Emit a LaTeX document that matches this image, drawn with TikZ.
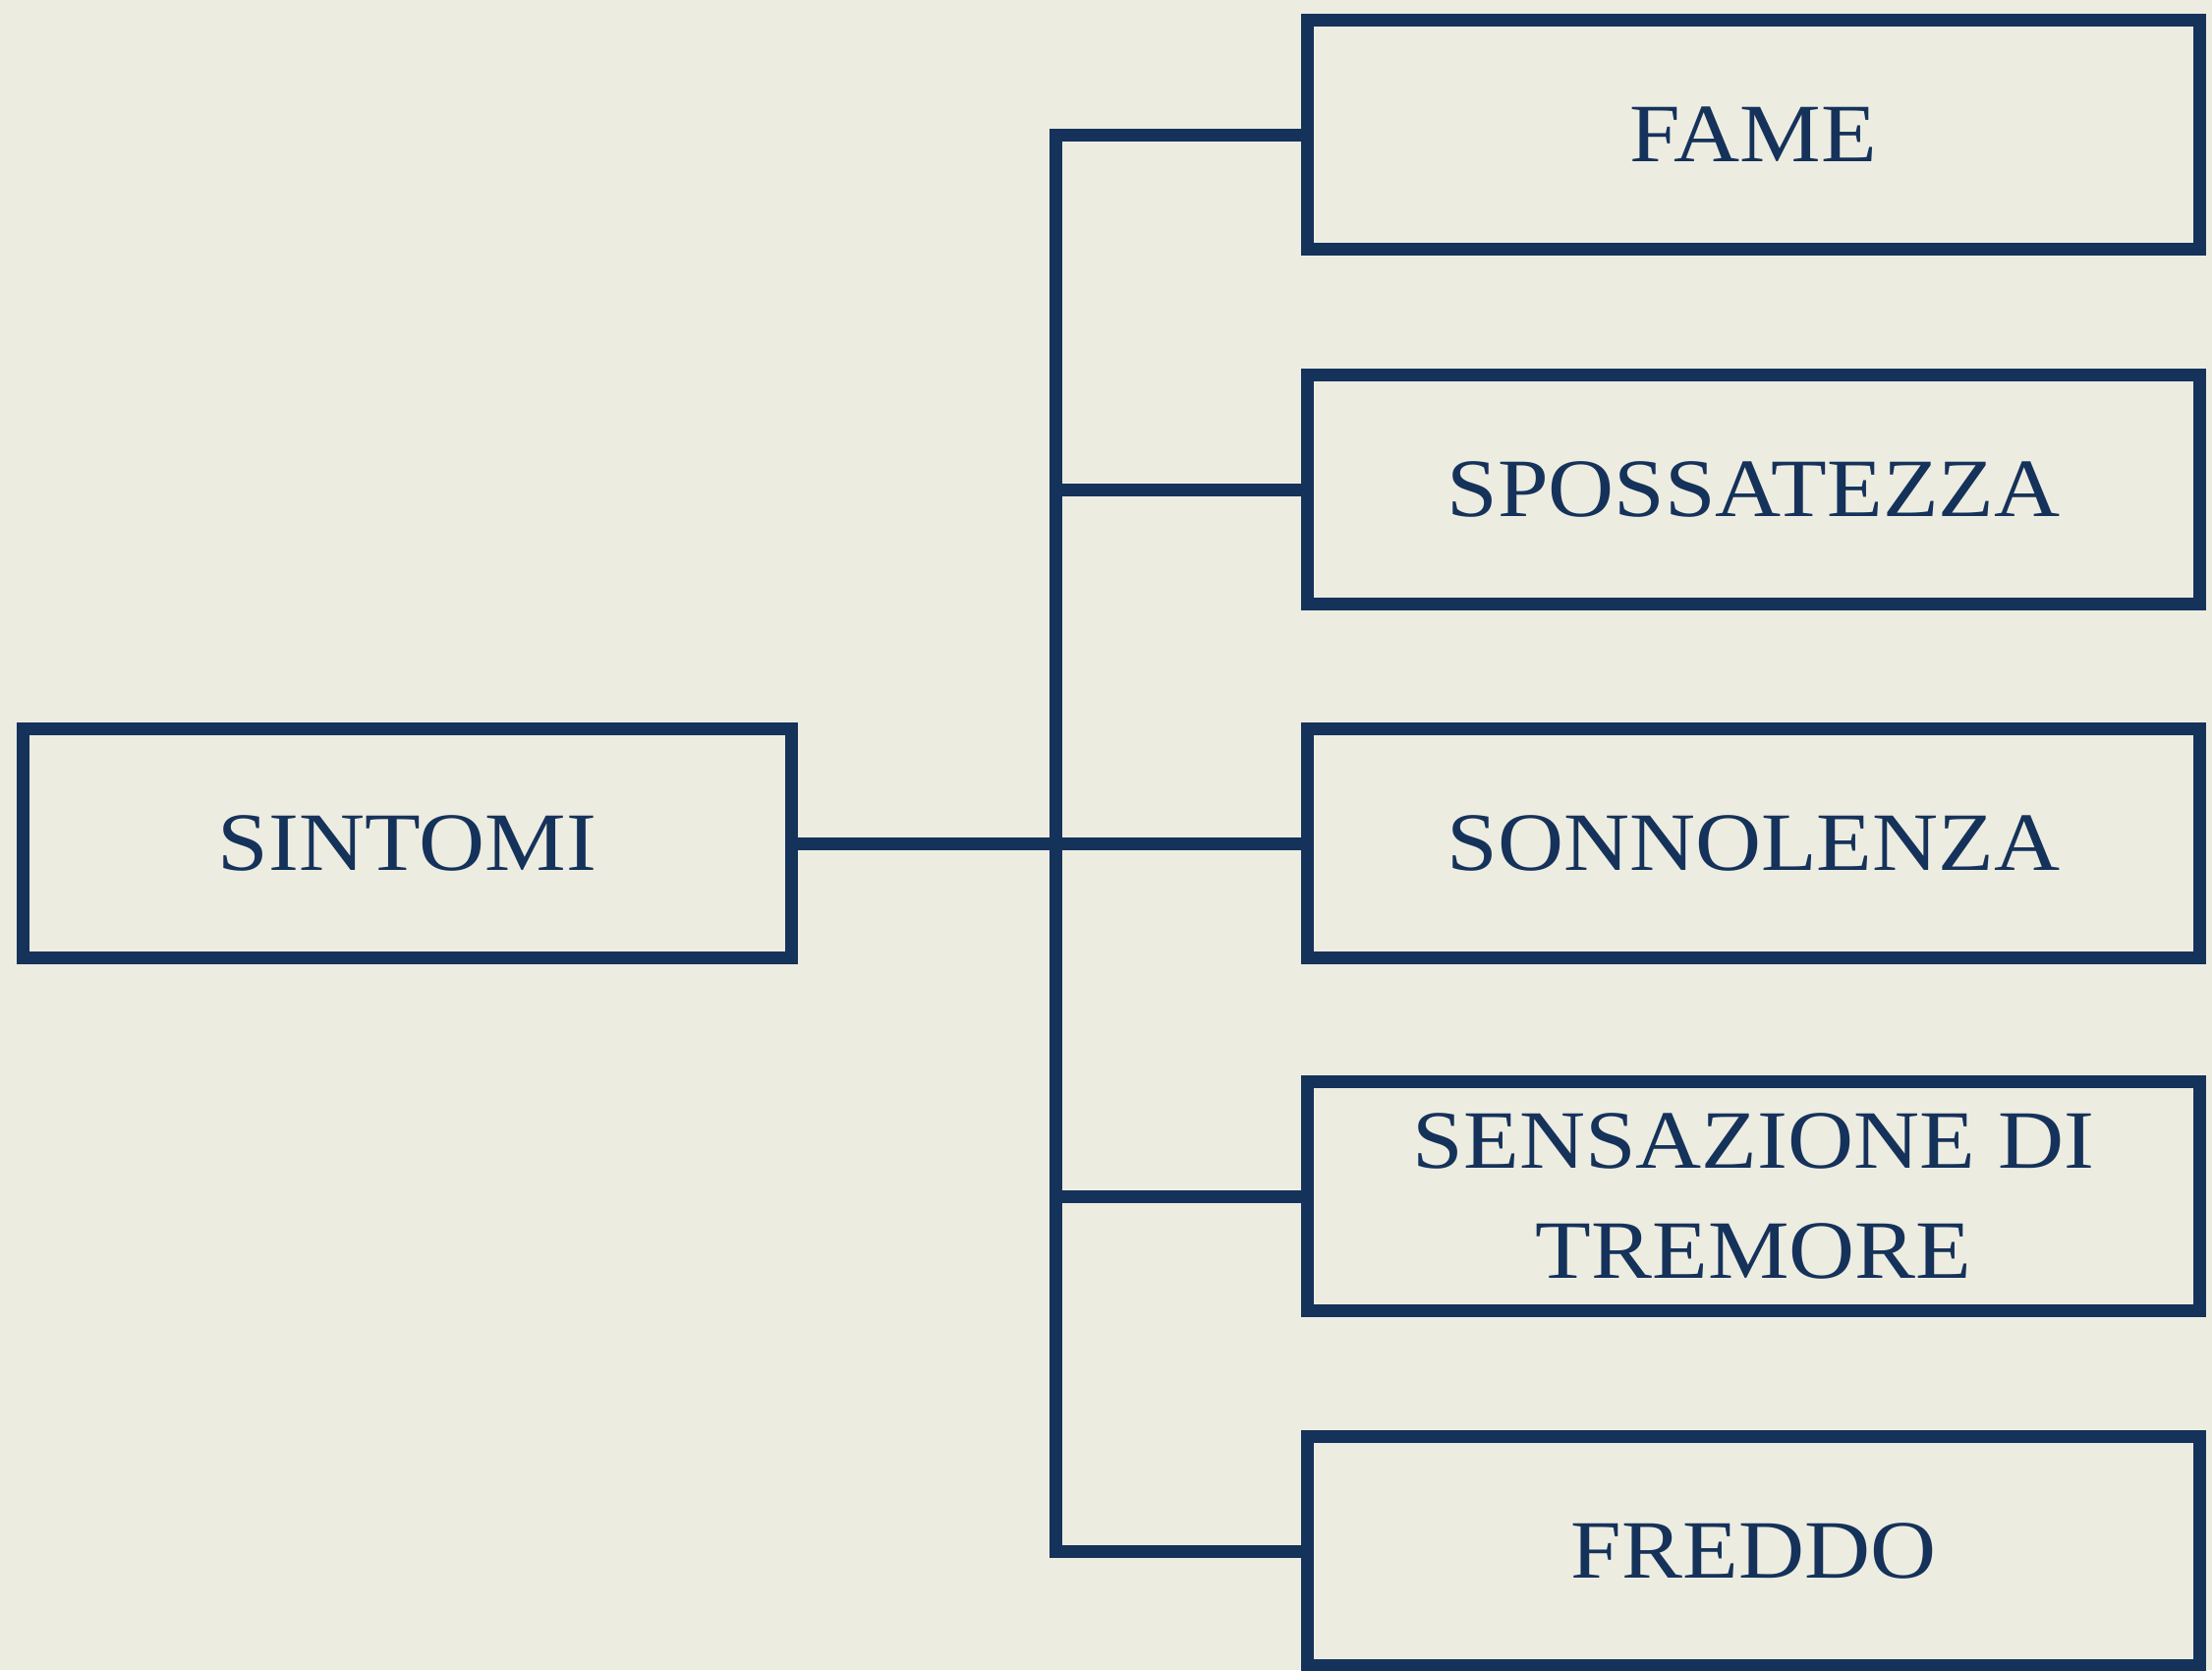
\documentclass[tikz,border=0pt]{standalone}
\usepackage{fontspec}
\setmainfont[FakeStretch=1.1]{Liberation Serif}
\definecolor{paper}{HTML}{EDECE1}
\definecolor{ink}{HTML}{15325A}
\tikzset{
  box/.style={draw=ink, line width=0.13cm, line join=miter, fill=none,
    minimum height=2.32cm, align=center, inner sep=0pt,
    text=ink, font=\fontsize{24}{32}\selectfont},
  rbox/.style={box, minimum width=9.07cm},
  conn/.style={draw=ink, line width=0.13cm, line join=miter},
}
\begin{document}
\begin{tikzpicture}[x=0.01cm, y=-0.01cm]
  \fill[paper] (0,0) rectangle (2251,1699);
  \useasboundingbox (0,0) rectangle (2251,1699);

  % root
  \node[box, minimum width=7.81cm] (sint) at (414.5,858) {SINTOMI};

  % symptoms
  \node[rbox] (fame) at (1784.5,137)  {FAME};
  \node[rbox] (spos) at (1784.5,498)  {SPOSSATEZZA};
  \node[rbox] (sonn) at (1784.5,858)  {SONNOLENZA};
  \node[rbox] (sens) at (1784.5,1217) {SENSAZIONE DI\\TREMORE};
  \node[rbox] (fred) at (1784.5,1578) {FREDDO};

  % trunk ends
  \coordinate (tbot) at (1074,1578);

  % connectors
  \draw[conn] (fame.west) -| (tbot) -- (fred.west);
  \draw[conn] (spos.west) -- (spos.west -| tbot);
  \draw[conn] (sens.west) -- (sens.west -| tbot);
  \draw[conn] (sint.east) -- (sonn.west);
\end{tikzpicture}
\end{document}
